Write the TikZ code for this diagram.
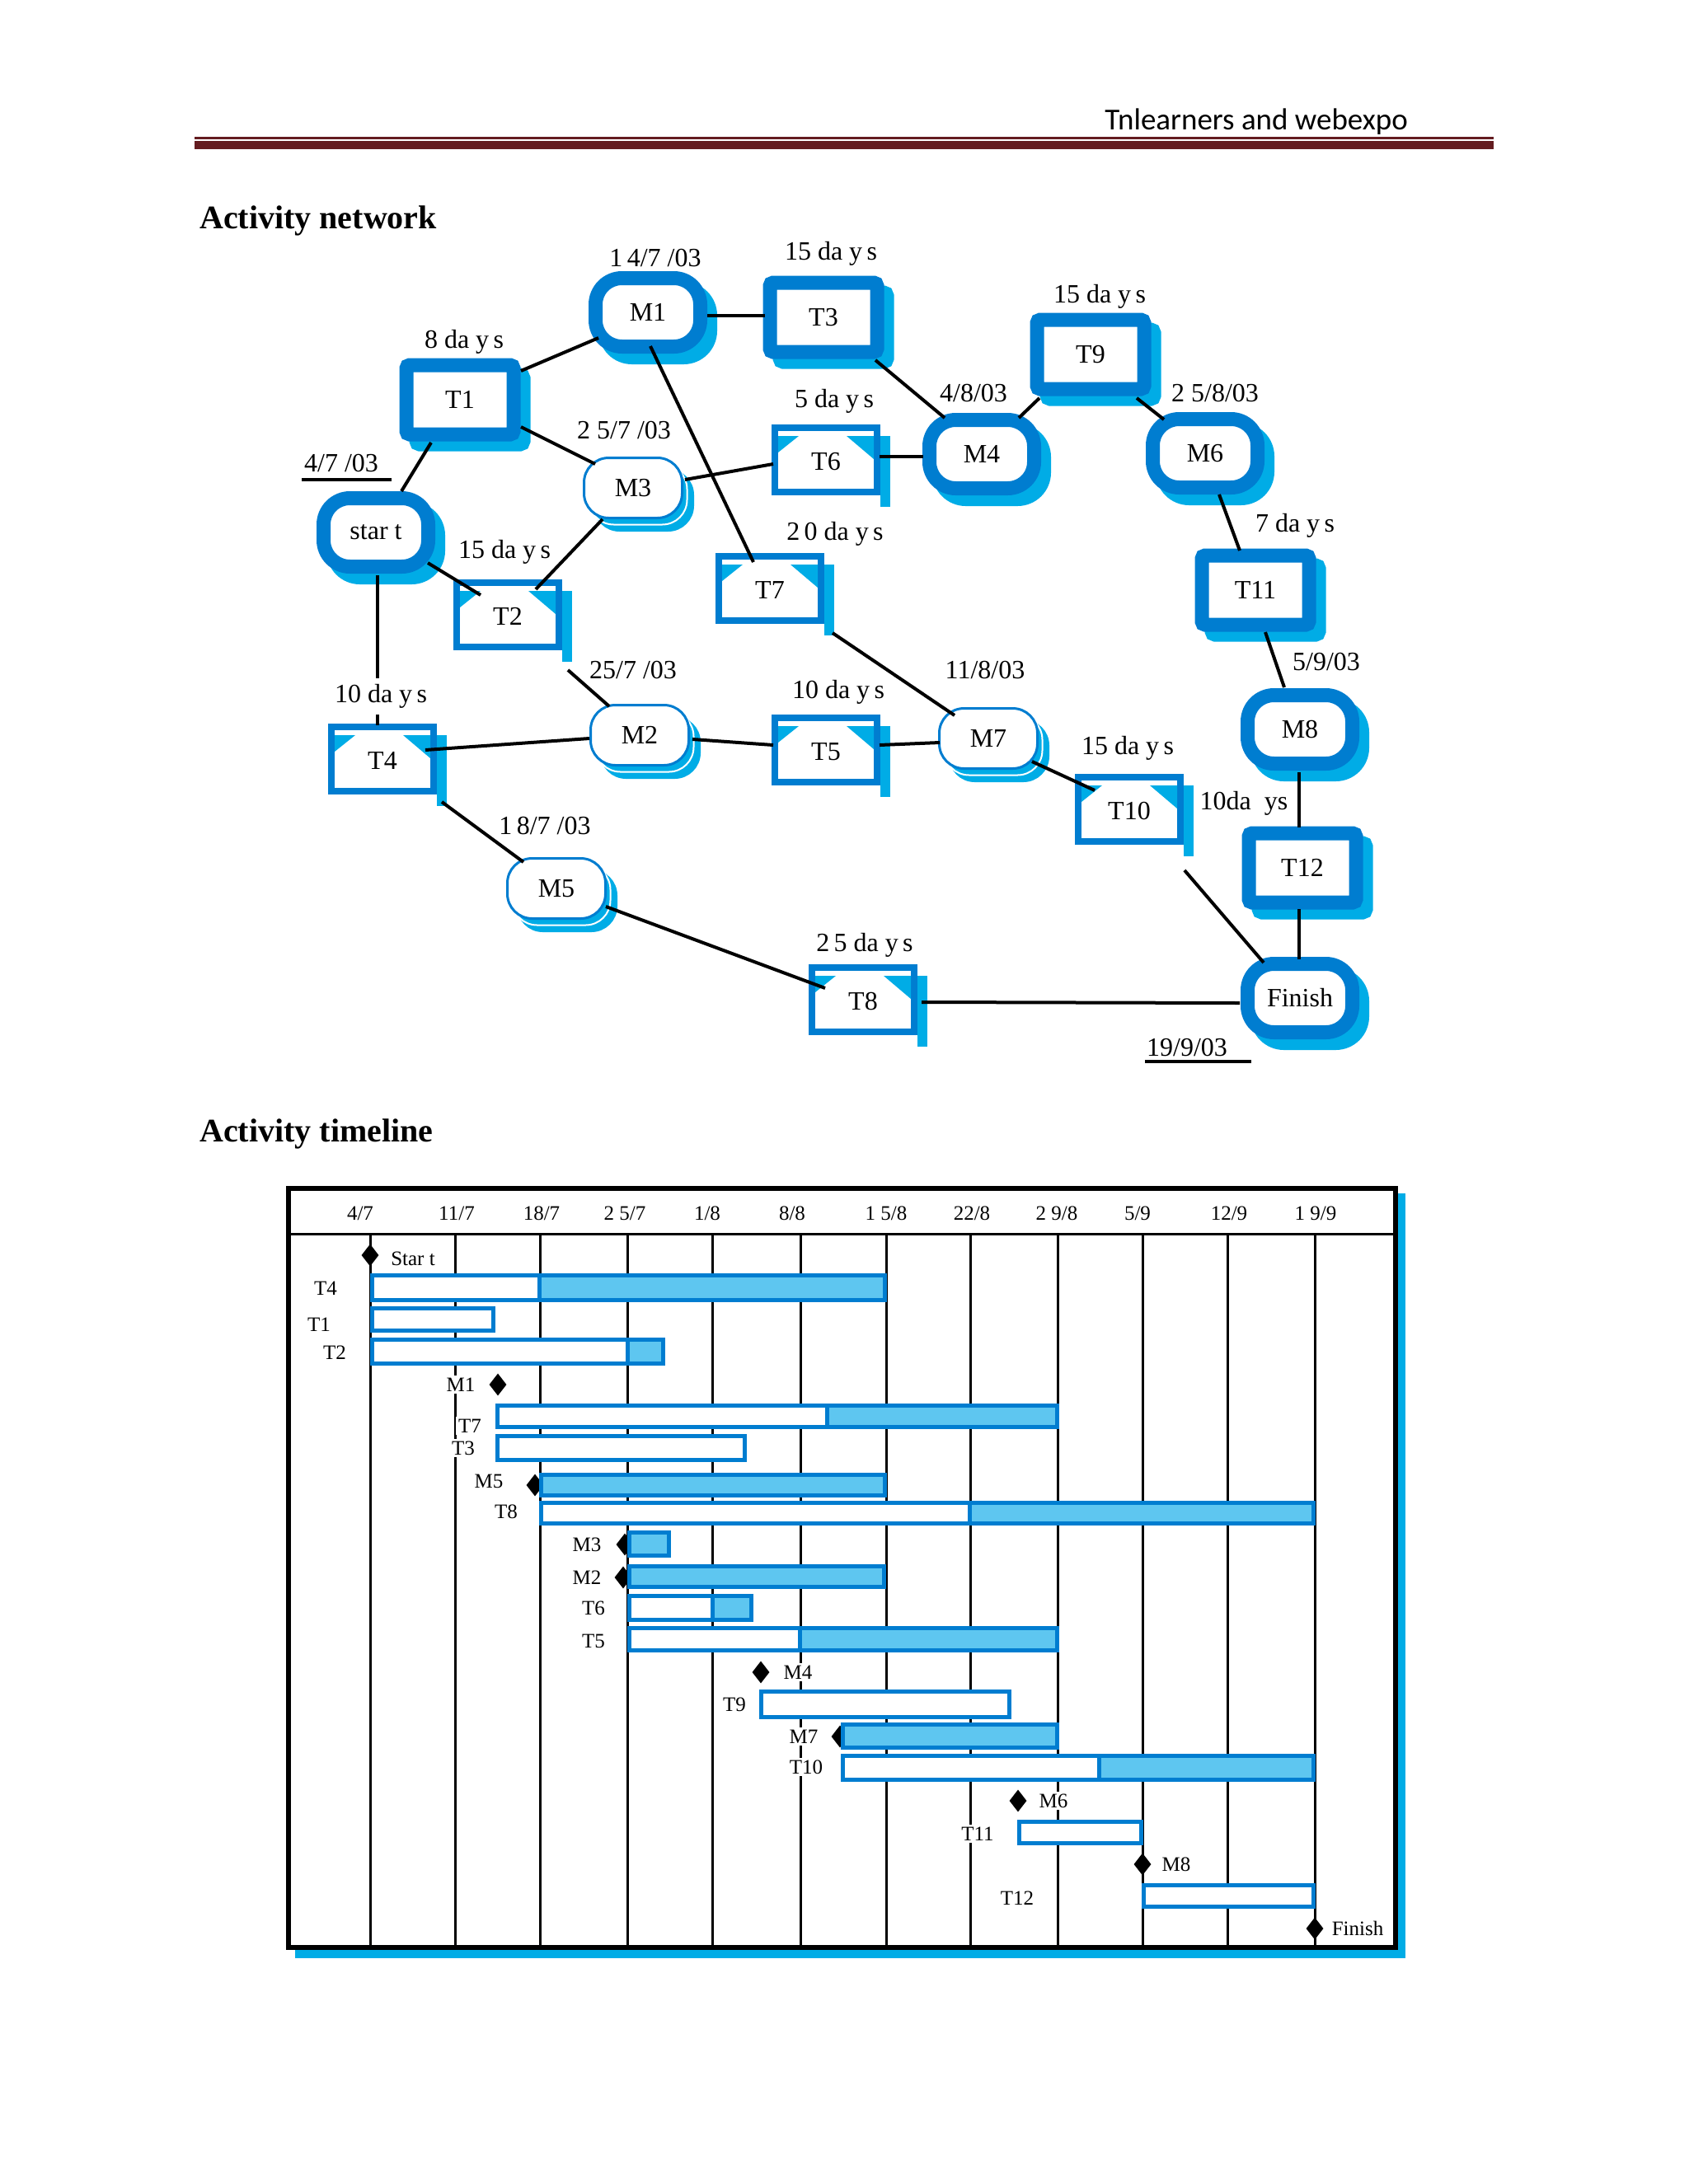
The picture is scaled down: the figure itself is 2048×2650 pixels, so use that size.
\documentclass[tikz,border=0pt]{standalone}
\usepackage{fontspec}
\setmainfont{Liberation Serif}
\newfontfamily\hdrfont{Carlito}
\usetikzlibrary{shapes.geometric,calc}
\definecolor{bdr}{RGB}{0,125,208}
\definecolor{shc}{RGB}{0,172,230}
\definecolor{barf}{RGB}{94,198,240}
\definecolor{rulec}{RGB}{100,28,32}
\newcommand\netfont{\fontsize{32}{36}\selectfont}
\newcommand\gfont{\fontsize{25}{29}\selectfont}
\tikzset{
 thickov/.style={draw=bdr, fill=white, line width=17pt, rounded corners=32pt, minimum width=127pt, minimum height=83pt, inner sep=0pt, font=\netfont},
 thickovsh/.style={thickov, draw=shc, fill=shc},
 thickbx/.style={draw=bdr, fill=white, line width=17pt, rounded corners=4pt, minimum width=130pt, minimum height=84pt, inner sep=0pt, font=\netfont},
 thickbxsh/.style={thickbx, draw=shc, fill=shc},
 thinbx/.style={draw=bdr, fill=white, line width=8pt, minimum width=124pt, minimum height=78pt, inner sep=0pt},
 thinov/.style={draw=bdr, fill=white, line width=3pt, rounded corners=30pt, minimum width=119pt, minimum height=73pt, inner sep=0pt, font=\netfont},
 thinovsh/.style={thinov, draw=shc, fill=shc},
 conn/.style={line width=4pt, black},
 lbl/.style={font=\netfont, fill=white, inner sep=2pt},
 glbl/.style={font=\gfont, fill=white, inner sep=3pt},
 gdate/.style={font=\gfont, inner sep=0pt},
 gdia/.style={diamond, fill=black, draw=none, minimum width=21pt, minimum height=27pt, inner sep=0pt},
 gbar/.style={draw=bdr, line width=5pt},
 gridl/.style={line width=3pt, black}
}
% milestones and tasks
\newcommand\msThick[4]{%
 \node[thickovsh] (s#1) at (#2+12,#3+13) {};
 \node[thickov] (#1) at (#2,#3) {#4};}
\newcommand\tkThick[4]{%
 \node[thickbxsh] (s#1) at (#2+12,#3+12) {};
 \node[thickbx] (#1) at (#2,#3) {#4};}
\newcommand\tkThin[4]{%
 \fill[shc] (#2+66,#3-29) rectangle (#2+78,#3+57);
 \node[thinbx] (#1) at (#2,#3) {};
 \fill[shc] (#2-58,#3-29) -- (#2-33,#3-29) -- (#2-58,#3-9) -- cycle;
 \fill[shc] (#2+58,#3-29) -- (#2+25,#3-29) -- (#2+58,#3-1) -- cycle;
 \node[font=\netfont, inner sep=0pt] (#1t) at (#2,#3+2) {#4};}
\newcommand\msThin[4]{%
 \node[thinovsh] (s#1) at (#2+13,#3+15) {};
 \node[thinov, draw=white, fill=none, line width=2pt] (w#1) at (#2+6,#3+8) {};
 \node[thinov] (#1) at (#2,#3) {#4};}
% gantt bars
\newcommand\gW[4]{\draw[gbar, fill=white] (#1+2.5,#3+2.5) rectangle (#2-2.5,#4-2.5);}
\newcommand\gB[4]{\draw[gbar, fill=barf] (#1+2.5,#3+2.5) rectangle (#2-2.5,#4-2.5);}
\newcommand\gS[5]{\fill[white] (#1,#4) rectangle (#2,#5);
 \fill[barf] (#2,#4) rectangle (#3,#5);
 \draw[gbar] (#2,#4) -- (#2,#5);
 \draw[gbar] (#1+2.5,#4+2.5) rectangle (#3-2.5,#5-2.5);}
\begin{document}
\begin{tikzpicture}[x=1pt,y=-1pt]
\useasboundingbox (0,0) rectangle (2048,2650);
% ---------- header ----------
\node[anchor=base east, inner sep=0pt, font=\hdrfont\fontsize{37}{40}\selectfont] (hdr) at (1708,157) {Tnlearners and webexpo};
\fill[rulec] (236,166) rectangle (1812,168.5);
\fill[rulec] (236,171) rectangle (1812,181);
\node[anchor=base west, inner sep=0pt, font=\bfseries\fontsize{40}{44}\selectfont] (title1) at (242,277) {Activity network};
\node[anchor=base west, inner sep=0pt, font=\bfseries\fontsize{40}{44}\selectfont] (title2) at (242,1385) {Activity timeline};
% ---------- network nodes ----------
\msThick{start}{456}{646}{star t}
\msThick{M1}{786}{379}{M1}
\msThick{M4}{1191}{551}{M4}
\msThick{M6}{1462}{550}{M6}
\msThick{M8}{1577}{885}{M8}
\msThick{Fin}{1577}{1211}{Finish}
\msThin{M3}{768}{592}{M3}
\msThin{M2}{776}{892}{M2}
\msThin{M5}{675}{1078}{M5}
\msThin{M7}{1199}{896}{M7}
\tkThick{T1}{558}{485}{T1}
\tkThick{T3}{999}{385}{T3}
\tkThick{T9}{1323}{430}{T9}
\tkThick{T11}{1523}{716}{T11}
\tkThick{T12}{1580}{1053}{T12}
\tkThin{T2}{616}{746}{T2}
\tkThin{T4}{464}{921}{T4}
\tkThin{T5}{1002}{910}{T5}
\tkThin{T6}{1002}{558}{T6}
\tkThin{T7}{934}{714}{T7}
\tkThin{T8}{1047}{1213}{T8}
\tkThin{T10}{1370}{982}{T10}
% ---------- connectors ----------
\draw[conn] ($(T1.center)+(74,-35)$) -- ($(M1.center)+(-60,31)$);
\draw[conn] ($(T1.center)+(74,33)$) -- ($(M3.center)+(-46,-29)$);
\draw[conn] ($(T1.center)+(-35,52)$) -- ($(start.center)+(31,-50)$);
\draw[conn] ($(M1.center)+(72,4)$) -- ($(T3.center)+(-71,-2)$);
\draw[conn] ($(M1.center)+(3,41)$) -- ($(T7.center)+(-20,-32)$);
\draw[conn] ($(M3.center)+(63,-10)$) -- ($(T6.center)+(-64,5)$);
\draw[conn] ($(M3.center)+(-37,38)$) -- ($(T2.center)+(34,-31)$);
\draw[conn] ($(start.center)+(63,37)$) -- ($(T2.center)+(-33,-24)$);
\draw[conn] ($(start.center)+(2,52)$) -- ($(T4.center)+(-6,-41)$);
\draw[conn] ($(T3.center)+(63,52)$) -- ($(M4.center)+(-45,-44)$);
\draw[conn] ($(M4.center)+(45,-44)$) -- ($(T9.center)+(-62,53)$);
\draw[conn] ($(T9.center)+(56,53)$) -- ($(M6.center)+(-50,-41)$);
\draw[conn] ($(T6.center)+(65,-4)$) -- ($(M4.center)+(-71,3)$);
\draw[conn] ($(M6.center)+(17,50)$) -- ($(T11.center)+(-19,-48)$);
\draw[conn] ($(T2.center)+(73,67)$) -- ($(M2.center)+(-37,-35)$);
\draw[conn] ($(T4.center)+(52,-11)$) -- ($(M2.center)+(-61,4)$);
\draw[conn] ($(M2.center)+(64,5)$) -- ($(T5.center)+(-64,-6)$);
\draw[conn] ($(T5.center)+(65,-6)$) -- ($(M7.center)+(-59,5)$);
\draw[conn] ($(T7.center)+(76,54)$) -- ($(M7.center)+(-41,-28)$);
\draw[conn] ($(T4.center)+(72,52)$) -- ($(M5.center)+(-40,-32)$);
\draw[conn] ($(M5.center)+(60,22)$) -- ($(T8.center)+(-46,-14)$);
\draw[conn] ($(M7.center)+(53,28)$) -- ($(T10.center)+(-42,-23)$);
\draw[conn] ($(T11.center)+(12,51)$) -- ($(M8.center)+(-19,-51)$);
\draw[conn] ($(M8.center)+(-1,52)$) -- ($(T12.center)+(-4,-49)$);
\draw[conn] ($(T12.center)+(-4,50)$) -- ($(Fin.center)+(-1,-47)$);
\draw[conn] ($(T10.center)+(67,74)$) -- ($(Fin.center)+(-44,-43)$);
\draw[conn] ($(T8.center)+(71,3)$) -- ($(Fin.center)+(-73,6)$);
% ---------- network labels ----------
\node[lbl] (l1) at (795,313) {1\,4/7 /03};
\node[lbl] (l2) at (1008,308) {15 da y\,s};
\node[lbl] (l3) at (563,415) {8 da y\,s};
\node[lbl] (l4) at (757,522) {2 5/7 /03};
\node[lbl] (l5) at (1012,487) {5 da y\,s};
\node[lbl] (l6) at (414,562) {4/7 /03};
\draw[line width=4pt] (366,582) -- (475,582);
\node[lbl] (l7) at (612,670) {15 da y\,s};
\node[lbl] (l8) at (1013,648) {2\,0 da y\,s};
\node[lbl] (l9) at (1334,360) {15 da y\,s};
\node[lbl] (l10) at (1181,477) {4/8/03};
\node[lbl] (l11) at (1474,477) {2 5/8/03};
\node[lbl] (l12) at (1571,638) {7 da y\,s};
\node[lbl, inner ysep=7pt] (l13) at (462,845) {10 da y\,s};
\node[lbl] (l14) at (768,813) {25/7 /03};
\node[lbl] (l15) at (1017,840) {10 da y\,s};
\node[lbl] (l16) at (1195,813) {11/8/03};
\node[lbl] (l17) at (661,1002) {1\,8/7 /03};
\node[lbl] (l18) at (1049,1147) {2\,5 da y\,s};
\node[lbl] (l19) at (1609,803) {5/9/03};
\node[lbl] (l20) at (1368,908) {15 da y\,s};
\node[lbl] (l21) at (1509,975) {10da~~ys};
\node[lbl] (l22) at (1440,1271) {19/9/03};
\draw[line width=4pt] (1389,1288) -- (1518,1288);
% ---------- gantt frame ----------
\fill[shc] (358,1448) rectangle (1705,2376);
\draw[line width=6pt, fill=white] (350,1442) rectangle (1693,2363);
\draw[gridl] (350,1497) -- (1693,1497);
\foreach \gx in {449,552,655,761,864,971,1075,1177,1283,1386,1489,1595}
  \draw[gridl] (\gx,1497) -- (\gx,2361);
\node[gdate] (d1) at (437,1472) {4/7};
\node[gdate] (d2) at (554,1472) {11/7};
\node[gdate] (d3) at (657,1472) {18/7};
\node[gdate] (d4) at (758,1472) {2 5/7};
\node[gdate] (d5) at (858,1472) {1/8};
\node[gdate] (d6) at (961,1472) {8/8};
\node[gdate] (d7) at (1075,1472) {1 5/8};
\node[gdate] (d8) at (1179,1472) {22/8};
\node[gdate] (d9) at (1282,1472) {2 9/8};
\node[gdate] (d10) at (1380,1472) {5/9};
\node[gdate] (d11) at (1491,1472) {12/9};
\node[gdate] (d12) at (1596,1472) {1 9/9};
% diamonds
\node[gdia] (dStart) at (449,1523) {};
\node[gdia] (dM1) at (604,1680) {};
\node[gdia] (dM5) at (649,1802) {};
\node[gdia] (dM3) at (758,1874) {};
\node[gdia] (dM2) at (756,1914) {};
\node[gdia] (dM4) at (923,2029) {};
\node[gdia] (dM7) at (1019,2107) {};
\node[gdia] (dM6) at (1235,2185) {};
\node[gdia] (dM8) at (1386,2262) {};
\node[gdia] (dFin) at (1595,2340) {};
% bars
\gS{449}{654}{1076}{1545}{1580}
\gW{449}{601}{1585}{1617}
\gS{449}{761}{807}{1623}{1657}
\gS{601}{1003}{1285}{1703}{1734}
\gW{601}{906}{1740}{1774}
\gB{654}{1076}{1787}{1817}
\gS{654}{1176}{1596}{1821}{1851}
\gB{761}{814}{1857}{1890}
\gB{761}{1075}{1898}{1928}
\gS{761}{864}{914}{1934}{1968}
\gS{761}{970}{1285}{1973}{2005}
\gW{921}{1227}{2050}{2086}
\gB{1020}{1285}{2090}{2123}
\gS{1020}{1333}{1596}{2128}{2162}
\gW{1234}{1387}{2208}{2239}
\gW{1385}{1596}{2285}{2316}
% gantt labels
\node[glbl] (gStart) at (501,1527) {Star t};
\node[glbl] (gT4) at (395,1563) {T4};
\node[glbl] (gT1) at (387,1607) {T1};
\node[glbl] (gT2) at (406,1641) {T2};
\node[glbl] (gM1) at (559,1680) {M1};
\node[glbl] (gT7) at (570,1730) {T7};
\node[glbl] (gT3) at (562,1757) {T3};
\node[glbl] (gM5) at (593,1797) {M5};
\node[glbl] (gT8) at (614,1834) {T8};
\node[glbl] (gM3) at (712,1874) {M3};
\node[glbl] (gM2) at (712,1914) {M2};
\node[glbl] (gT6) at (720,1951) {T6};
\node[glbl] (gT5) at (720,1991) {T5};
\node[glbl] (gM4) at (968,2029) {M4};
\node[glbl] (gT9) at (891,2068) {T9};
\node[glbl] (gM7) at (975,2107) {M7};
\node[glbl] (gT10) at (978,2144) {T10};
\node[glbl] (gM6) at (1278,2185) {M6};
\node[glbl] (gT11) at (1186,2225) {T11};
\node[glbl] (gM8) at (1427,2262) {M8};
\node[glbl] (gT12) at (1234,2303) {T12};
\node[glbl] (gFin) at (1647,2340) {Finish};
\end{tikzpicture}
\end{document}
